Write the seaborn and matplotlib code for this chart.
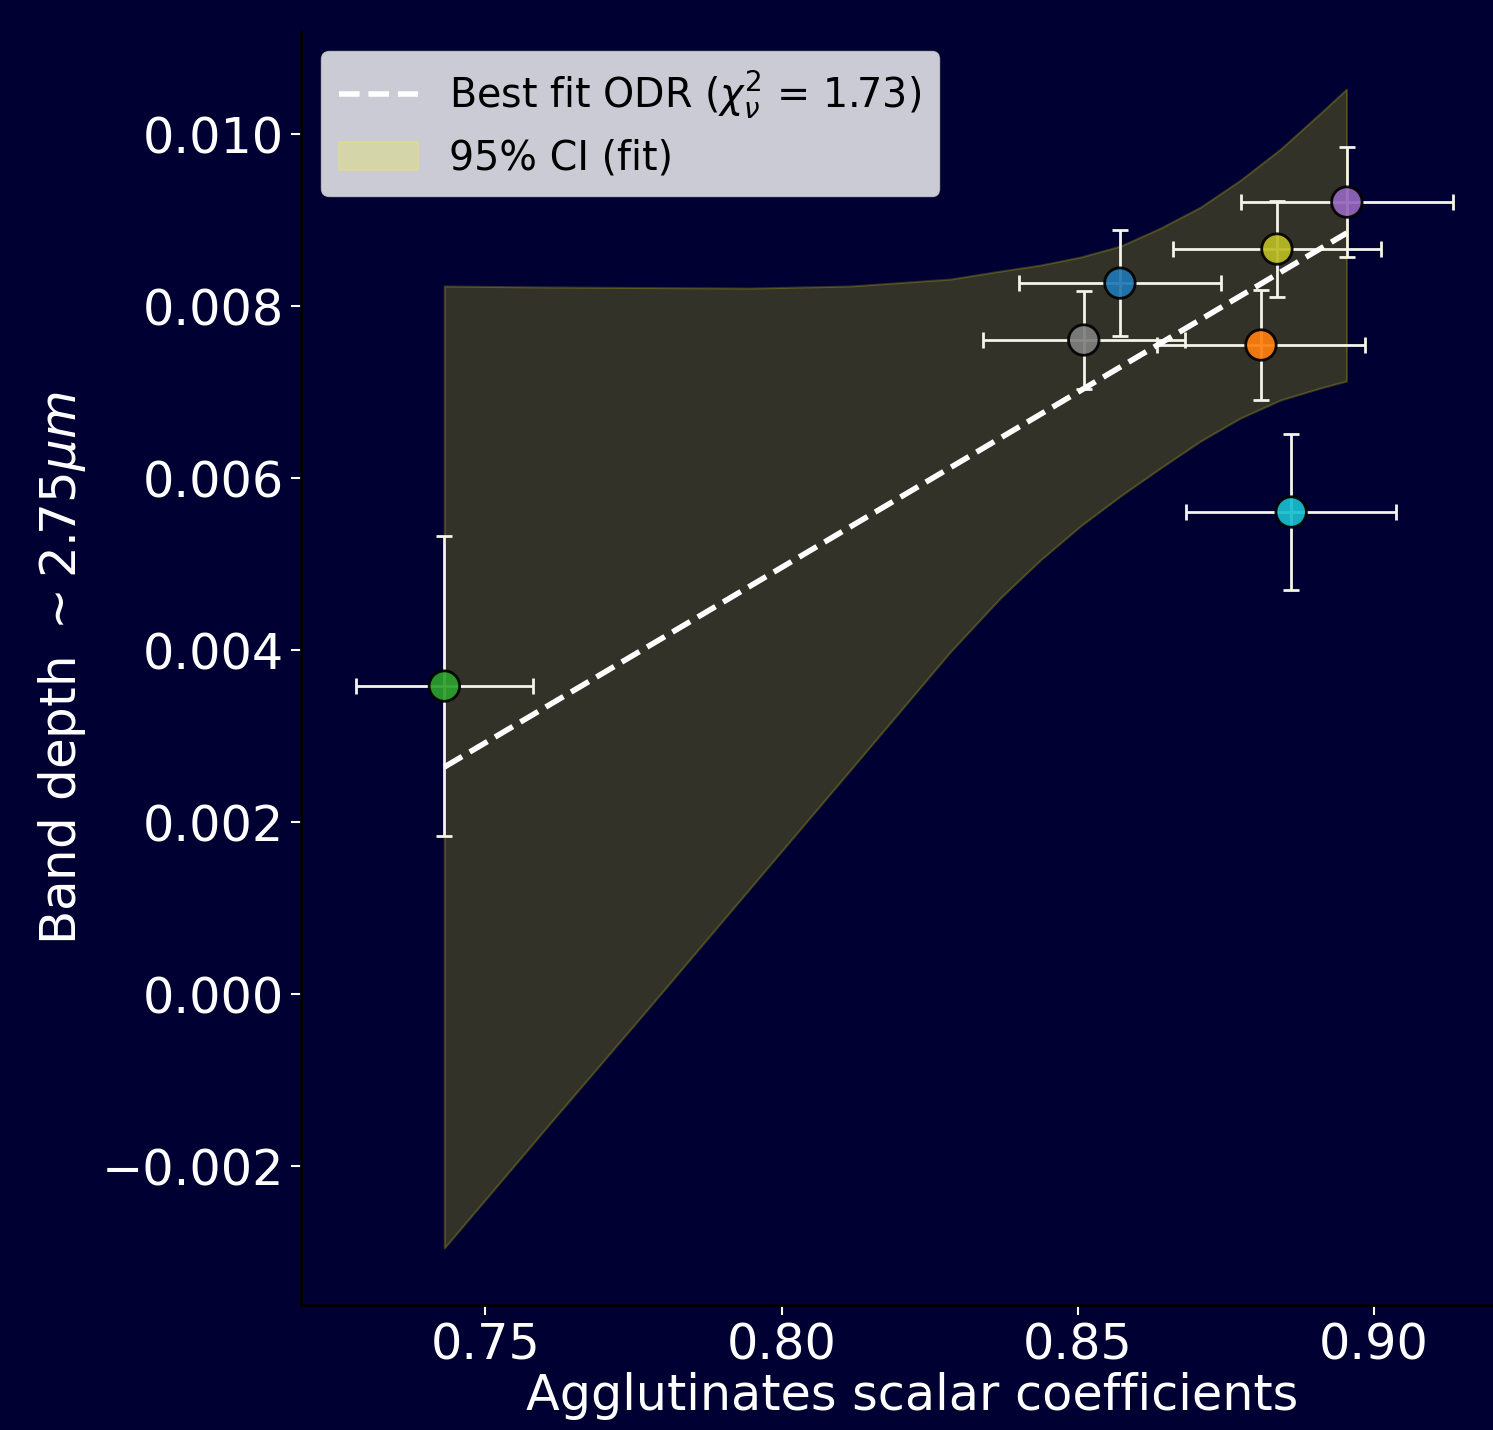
import numpy as np
import pandas as pd
import matplotlib
matplotlib.use("Agg")
import matplotlib.pyplot as plt
import seaborn as sns

# samples
samples = ["blue", "orange", "green", "gray", "olive", "cyan", "purple"]
coef = [0.8571, 0.8809, 0.7431, 0.8510, 0.8836, 0.8860, 0.8954]
coef_err = [0.0171, 0.0176, 0.0149, 0.0170, 0.0176, 0.0177, 0.0179]
band_depth = [0.008267, 0.007547, 0.003581, 0.007605, 0.008663, 0.005605, 0.009209]
band_err = [0.00062, 0.00064, 0.00174, 0.00057, 0.00056, 0.00091, 0.00064]
colors = ["tab:blue", "tab:orange", "tab:green", "tab:gray", "tab:olive", "tab:cyan", "tab:purple"]

# best fit line
fit_x = [0.7431, 0.8954]
fit_y = [0.00264, 0.00885]

# 95% CI band
ci_x = [0.74308, 0.76097, 0.77785, 0.79473, 0.81161, 0.82849, 0.83693, 0.84369,
        0.85044, 0.85719, 0.86394, 0.87070, 0.87745, 0.88420, 0.89095, 0.89534]
ci_upper = [0.008233, 0.008221, 0.008215, 0.008209, 0.008233, 0.008314, 0.008407, 0.008477,
            0.008570, 0.008698, 0.008907, 0.009151, 0.009465, 0.009826, 0.010244, 0.010523]
ci_lower = [-0.002953, -0.001500, -0.000140, 0.001233, 0.002605, 0.003980, 0.004605, 0.005047,
            0.005442, 0.005791, 0.006116, 0.006430, 0.006698, 0.006907, 0.007047, 0.007128]

bg = "#000033"
sns.set_style("dark")
plt.rcParams["font.family"] = ["DejaVu Sans"]

fig = plt.figure(figsize=(14.93, 14.30), dpi=100, facecolor=bg)
ax = fig.add_axes([0.2016, 0.0874, 0.818, 0.8909])
ax.set_facecolor(bg)

df = pd.DataFrame({"sample": samples, "coef": coef, "bd": band_depth})

ax.fill_between(ci_x, ci_lower, ci_upper, color="yellow", alpha=0.2, lw=1.5,
                label="95% CI (fit)", zorder=1)
sns.lineplot(x=fit_x, y=fit_y, ax=ax, color="white", lw=4, ls="--",
             label=r"Best fit ODR ($\chi^2_\nu$ = 1.73)", zorder=3)
ax.errorbar(coef, band_depth, xerr=coef_err, yerr=band_err, fmt="none",
            ecolor="#f4f4ea", elinewidth=2, capsize=5.5, capthick=2, zorder=2)
sns.scatterplot(data=df, x="coef", y="bd", hue="sample", palette=colors, s=480,
                edgecolor="black", linewidth=2, alpha=0.92, legend=False, ax=ax, zorder=4)

ax.set_xlim(0.7189, 0.925)
ax.set_ylim(-0.003616, 0.011198)
ax.set_xticks([0.75, 0.80, 0.85, 0.90])
ax.set_yticks([-0.002, 0.0, 0.002, 0.004, 0.006, 0.008, 0.010])
ax.set_xticklabels(["0.75", "0.80", "0.85", "0.90"])
ax.set_yticklabels(["\u22120.002", "0.000", "0.002", "0.004", "0.006", "0.008", "0.010"])
ax.tick_params(colors="white", labelsize=35.5, length=7, width=1.5, pad=5,
               left=True, bottom=True)
ax.grid(False)
for side in ["left", "bottom"]:
    ax.spines[side].set_visible(True)
    ax.spines[side].set_color("black")
    ax.spines[side].set_linewidth(2)
ax.spines["top"].set_visible(False)
ax.spines["right"].set_visible(False)

ax.set_xlabel("Agglutinates scalar coefficients", color="white", fontsize=35.5, labelpad=2)
ax.set_ylabel(r"Band depth $\sim 2.75\mu m$", color="white", fontsize=36, labelpad=10)

handles, labels = ax.get_legend_handles_labels()
order = [labels.index(l) for l in [r"Best fit ODR ($\chi^2_\nu$ = 1.73)", "95% CI (fit)"]]
leg = ax.legend([handles[i] for i in order], [labels[i] for i in order],
                loc="upper left", fontsize=28.5, frameon=True, facecolor="white",
                framealpha=0.8, edgecolor="#cccccc", handlelength=2.0,
                borderpad=0.45, labelspacing=0.45)
for t in leg.get_texts():
    t.set_color("black")

fig.savefig("out.png", dpi=100, facecolor=bg)
